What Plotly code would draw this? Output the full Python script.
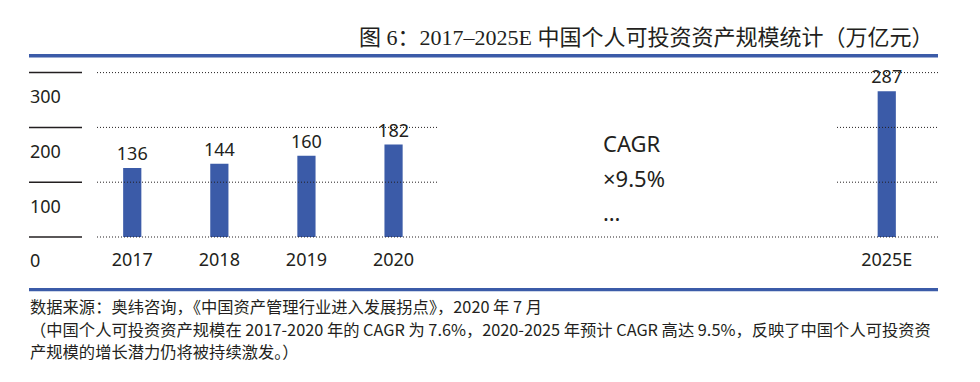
import plotly.graph_objects as go

# ---------------- data ----------------
CATEGORIES_HIST = ["2017", "2018", "2019", "2020"]
VALUES_HIST = [136, 144, 160, 182]
CATEGORIES_FCST = ["2025E"]
VALUES_FCST = [287]
Y_TICKS = [0, 100, 200, 300]
Y_TICK_LABELS = ["0", "100", "200", "300"]
CAGR_LINES = ["CAGR", "×9.5%", "…"]
TITLE = "图 6：2017–2025E 中国个人可投资资产规模统计（万亿元）"
SOURCE_LINES = [
    "数据来源：奥纬咨询，《中国资产管理行业进入发展拐点》，2020 年 7 月",
    "（中国个人可投资资产规模在 2017-2020 年的 CAGR 为 7.6%，2020-2025 年预计 CAGR 高达 9.5%，反映了中国个人可投资资",
    "产规模的增长潜力仍将被持续激发。）",
]

# ---------------- style / layout helpers ----------------
PAGE_OFF = 8                 # default body margin of the page
W, H = 980 - PAGE_OFF, 382 - PAGE_OFF
BLUE = "#3b5ba8"
INK = "#231f20"
SANS = "Noto Sans, Noto Sans CJK SC, sans-serif"
CJK = "Noto Sans CJK SC, Noto Sans, sans-serif"
SERIF = "Liberation Serif, Noto Sans CJK SC, serif"


def fx(px):
    return (px - PAGE_OFF) / W


def fy(px):
    return 1 - (px - PAGE_OFF) / H


Y_ZERO, Y_TOP, Y_LOW = 237.0, 62.0, 278.0   # zero line, top and bottom of value-axis domain (px)
BAR_SCALE = 0.508    # px per unit for bars
GRID_SCALE = 0.548   # px per unit for decorative tick grid

fig = go.Figure()
for cats, vals, xa in [(CATEGORIES_HIST, VALUES_HIST, "x"), (CATEGORIES_FCST, VALUES_FCST, "x2")]:
    fig.add_trace(go.Bar(
        x=cats, y=vals, xaxis=xa, yaxis="y",
        marker=dict(color=BLUE, line=dict(width=0)),
        text=vals, textposition="outside", cliponaxis=False, constraintext="none",
        textfont=dict(family=SANS, size=18, color=INK),
        hoverinfo="skip", showlegend=False,
    ))

axis_common = dict(type="category", showgrid=False, zeroline=False, showline=False,
                   ticks="", tickfont=dict(family=SANS, size=18, color=INK),
                   ticklabelstandoff=10, fixedrange=True, anchor="free", position=fy(Y_ZERO))

shapes = []
# decorative tick lines (short solid) + dotted grid
for i, v in enumerate(Y_TICKS):
    shapes.append(dict(type="line", xref="paper", yref="y2", x0=fx(29), x1=fx(82), y0=v, y1=v,
                       line=dict(color=INK, width=1.5)))
    if i == 0 or i == len(Y_TICKS) - 1:
        segs = [(97, 938)]
    else:
        segs = [(97, 438), (837, 938)]
    for a, b in segs:
        shapes.append(dict(type="line", xref="paper", yref="y2", x0=fx(a), x1=fx(b), y0=v, y1=v,
                           line=dict(color=INK, width=1, dash="1px,2px")))
# blue rules
shapes.append(dict(type="line", xref="paper", yref="paper", x0=fx(29), x1=fx(938), y0=fy(55.8), y1=fy(55.8),
                   line=dict(color=BLUE, width=3.5)))
shapes.append(dict(type="line", xref="paper", yref="paper", x0=fx(29), x1=fx(938), y0=fy(289.6), y1=fy(289.6),
                   line=dict(color=BLUE, width=3.2)))

annotations = [
    dict(text=TITLE, xref="paper", yref="paper", x=fx(935), y=fy(37.5), xanchor="right", yanchor="middle",
         showarrow=False, font=dict(family=SERIF, size=22, color=INK)),
]
cagr_y = [143.3, 178.3, 212.0]
for t, yy in zip(CAGR_LINES, cagr_y):
    annotations.append(dict(text=t, xref="paper", yref="paper", x=fx(601), y=fy(yy), xanchor="left",
                            yanchor="middle", showarrow=False, font=dict(family=SANS, size=22, color=INK)))
src_y = [305.5, 328.5, 350.5]
for t, yy in zip(SOURCE_LINES, src_y):
    annotations.append(dict(text=t, xref="paper", yref="paper", x=fx(28), y=fy(yy), xanchor="left",
                            yanchor="middle", showarrow=False, font=dict(family=CJK, size=16.3, color=INK)))

y_domain = [fy(Y_LOW), fy(Y_TOP)]
fig.update_layout(
    width=W, height=H, autosize=False,
    margin=dict(l=0, r=0, t=0, b=0, pad=0),
    paper_bgcolor="white", plot_bgcolor="rgba(0,0,0,0)",
    bargap=1 - 18.2 / 87.1,
    showlegend=False,
    xaxis=dict(domain=[fx(88.7), fx(437.1)], range=[-0.5, 3.5], **axis_common),
    xaxis2=dict(domain=[fx(843.2), fx(930.3)], range=[-0.5, 0.5], **axis_common),
    yaxis=dict(domain=y_domain,
               range=[-(Y_LOW - Y_ZERO) / BAR_SCALE, (Y_ZERO - Y_TOP) / BAR_SCALE], anchor="x",
               visible=False, fixedrange=True),
    yaxis2=dict(overlaying="y", anchor="free", position=fx(26),
                range=[-(Y_LOW - Y_ZERO) / GRID_SCALE, (Y_ZERO - Y_TOP) / GRID_SCALE],
                tickvals=Y_TICKS, ticktext=Y_TICK_LABELS, ticklabelposition="inside",
                ticklabelshift=24, showgrid=False, zeroline=False, showline=False, ticks="",
                tickfont=dict(family=SANS, size=18, color=INK), fixedrange=True),
    shapes=shapes,
    annotations=annotations,
)

fig.write_html("out.html")
